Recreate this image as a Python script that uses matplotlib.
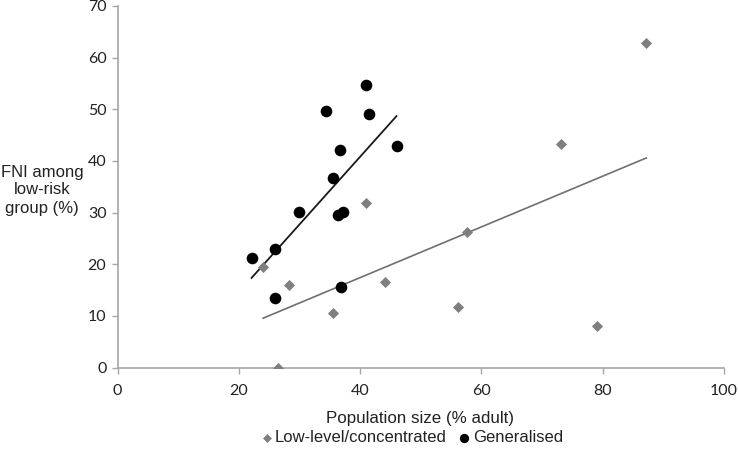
#!/usr/bin/env python3
"""
FNI among low-risk group vs population size, with linear trendlines.
"""

import matplotlib
matplotlib.use("Agg")
import matplotlib.pyplot as plt
import numpy as np

# Low-level/concentrated epidemics
low_x = [24.0, 28.2, 26.4, 35.5, 41.0, 44.1, 56.2, 57.7, 73.2, 79.0, 87.2]
low_y = [19.5, 16.0, 0.0, 10.5, 31.8, 16.6, 11.8, 26.3, 43.3, 8.1, 62.8]

# Generalised epidemics
gen_x = [22.1, 25.9, 25.9, 29.9, 34.4, 35.6, 36.4, 36.6, 36.9, 37.2, 40.9, 41.5, 46.0]
gen_y = [21.2, 22.9, 13.4, 30.1, 49.7, 36.7, 29.5, 42.2, 15.6, 30.1, 54.7, 49.0, 42.8]

x_ticks = [0, 20, 40, 60, 80, 100]
y_ticks = [0, 10, 20, 30, 40, 50, 60, 70]

LOW_COLOR = "#7f7f7f"
GEN_COLOR = "#000000"
AXIS_COLOR = "#a6a6a6"


def trendline(x, y):
    """Least-squares line spanning the data range (like an Excel trendline)."""
    x = np.asarray(x)
    slope, intercept = np.polyfit(x, np.asarray(y), 1)
    xs = np.array([x.min(), x.max()])
    return xs, slope * xs + intercept


def main():
    fig = plt.figure(figsize=(7.38, 4.5), dpi=100)
    ax = fig.add_axes([0.1593, 0.1833, 0.8217, 0.8034])

    # Points
    ax.scatter(low_x, low_y, marker="D", s=32, color=LOW_COLOR,
               linewidths=0, zorder=3, label="Low-level/concentrated")
    ax.scatter(gen_x, gen_y, marker="o", s=70, color=GEN_COLOR,
               linewidths=0, zorder=3, label="Generalised")

    # Trendlines
    lx, ly = trendline(low_x, low_y)
    ax.plot(lx, ly, color="#6f6f6f", linewidth=1.2, zorder=2)
    gx, gy = trendline(gen_x, gen_y)
    ax.plot(gx, gy, color="#1a1a1a", linewidth=1.3, zorder=2)

    # Axes styling
    ax.set_xlim(0, 100)
    ax.set_ylim(0, 70)
    ax.set_xticks(x_ticks)
    ax.set_yticks(y_ticks)
    for side in ("top", "right"):
        ax.spines[side].set_visible(False)
    for side in ("left", "bottom"):
        ax.spines[side].set_color(AXIS_COLOR)
        ax.spines[side].set_linewidth(1.2)
    ax.tick_params(colors=AXIS_COLOR, length=4, width=1.0, labelsize=11.5)
    for lab in ax.get_xticklabels() + ax.get_yticklabels():
        lab.set_color("#222222")
        lab.set_family(["Lato", "DejaVu Sans"])
    ax.tick_params(axis="x", pad=8)
    ax.tick_params(axis="y", pad=4)

    # Labels
    fig.text(42 / 738, 1 - 190 / 450, "FNI among\nlow-risk\ngroup (%)",
             ha="center", va="center", fontsize=12,
             family="Liberation Sans", color="#222222", linespacing=1.25)
    fig.text(420 / 738, 1 - 419 / 450, "Population size (% adult)",
             ha="center", va="center", fontsize=12.2,
             family="Liberation Sans", color="#222222")

    leg = fig.legend(loc="center", bbox_to_anchor=(411 / 738, 1 - 438 / 450),
                     ncol=2, frameon=False, handletextpad=0.05,
                     handlelength=0.9, columnspacing=0.6, markerscale=0.8,
                     prop={"family": "Liberation Sans", "size": 12})
    for txt in leg.get_texts():
        txt.set_color("#222222")

    fig.savefig("out.png", dpi=100)


if __name__ == "__main__":
    main()
